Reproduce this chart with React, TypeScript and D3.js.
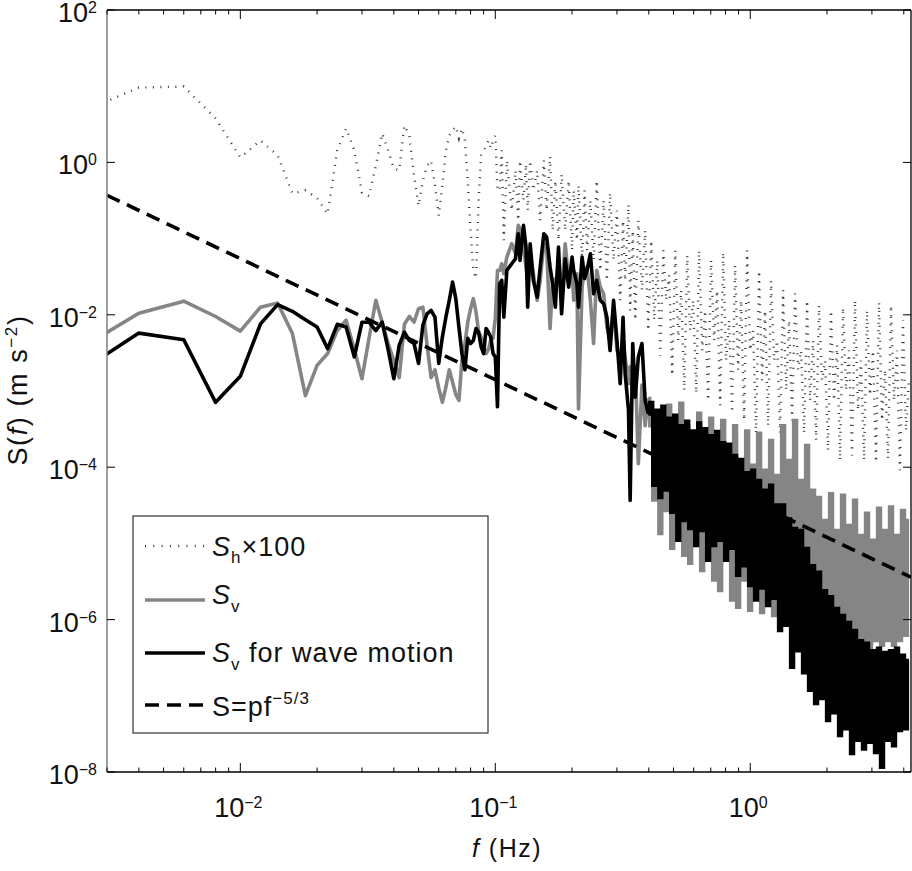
import * as d3 from "d3";

const W = 912;
const H = 871;
const M = { left: 107, right: 911, top: 10, bottom: 772 };
const F_MIN = 0.003;
const F_MAX = 4.27;

// low band, one value every 0.002 Hz
const fLow = [
  0.002, 0.004, 0.006, 0.008, 0.01, 0.012, 0.014, 0.016, 0.018, 0.02,
  0.022, 0.024, 0.026, 0.028, 0.03, 0.032, 0.034, 0.036, 0.038, 0.04,
  0.042, 0.044, 0.046, 0.048, 0.05, 0.052, 0.054, 0.056, 0.058, 0.06,
  0.062, 0.064, 0.066, 0.068, 0.07, 0.072, 0.074, 0.076, 0.078, 0.08,
  0.082, 0.084, 0.086, 0.088, 0.09, 0.092, 0.094, 0.096, 0.098, 0.1, 0.102,
];
const shLow = [
  3.56, 9.6, 9.9, 3.78, 1.16, 1.94, 1.24, 0.39, 0.43, 0.34,
  0.21, 1.44, 2.79, 1.44, 0.4, 0.36, 0.91, 2.4, 1.44, 0.83,
  0.79, 3.06, 2.26, 0.67, 0.27, 0.58, 0.91, 1.06, 0.5, 0.2,
  0.5, 1.44, 2.26, 2.63, 2.97, 2.07, 2.79, 1.94, 0.58, 0.128,
  0.038, 0.03, 0.32, 1.24, 1.44, 1.62, 1.94, 1.53, 1.94, 2.26, 0.43,
];
const svLow = [
  0.0026, 0.0105, 0.0151, 0.0095, 0.0061, 0.0126, 0.0143, 0.0057, 0.00087, 0.00217,
  0.0031, 0.0062, 0.0085, 0.0035, 0.00145, 0.005, 0.0155, 0.008, 0.0042, 0.0025,
  0.0015, 0.0075, 0.0095, 0.008, 0.012, 0.0126, 0.004, 0.0015, 0.0019, 0.0011,
  0.00071, 0.00112, 0.0019, 0.0013, 0.0009, 0.00075, 0.0025, 0.0042, 0.008, 0.012,
  0.0163, 0.011, 0.006, 0.0051, 0.004, 0.0031, 0.0035, 0.0046, 0.005, 0.0089, 0.038,
];
const wvLow = [
  0.00127, 0.00575, 0.0047, 0.00071, 0.00156, 0.0076, 0.0136, 0.0111, 0.0086, 0.0069,
  0.0036, 0.0075, 0.0069, 0.0028, 0.008, 0.008, 0.0062, 0.008, 0.0035, 0.00145,
  0.004, 0.0059, 0.0046, 0.0042, 0.0023, 0.0073, 0.0103, 0.0114, 0.0093, 0.0023,
  0.0051, 0.0093, 0.0155, 0.0269, 0.0163, 0.0069, 0.0031, 0.0019, 0.0049, 0.0042,
  0.0046, 0.0066, 0.0059, 0.0038, 0.0031, 0.0066, 0.0059, 0.0051, 0.0031, 0.0028, 0.00062,
];

// middle band
const fMid = [
  0.104, 0.106, 0.108, 0.111, 0.116, 0.12, 0.123, 0.125, 0.129, 0.132,
  0.134, 0.137, 0.141, 0.146, 0.15, 0.155, 0.159, 0.164, 0.168, 0.172,
  0.177, 0.182, 0.188, 0.194, 0.2, 0.203, 0.209, 0.212, 0.219, 0.224,
  0.229, 0.236, 0.243, 0.25, 0.258, 0.266, 0.274, 0.282, 0.291, 0.3,
  0.309, 0.317, 0.323, 0.333, 0.338, 0.346, 0.354, 0.364, 0.376, 0.387, 0.398,
];
const shMid = [
  0.43, 1.44, 0.095, 1.06, 0.234, 0.785, 0.173, 1.06, 0.317, 0.95,
  0.234, 1.06, 0.43, 0.785, 0.173, 1.06, 0.234, 1.2, 0.128, 0.58,
  0.095, 0.7, 0.128, 0.58, 0.07, 0.43, 0.095, 0.5, 0.052, 0.43,
  0.07, 0.317, 0.052, 0.58, 0.038, 0.317, 0.028, 0.4, 0.052, 0.234,
  0.0155, 0.173, 0.028, 0.28, 0.0114, 0.128, 0.0085, 0.173, 0.021, 0.128, 0.0062,
];
const svMid = [
  0.0383, 0.0468, 0.0346, 0.0573, 0.0857, 0.0633, 0.149, 0.135, 0.0775, 0.0423,
  0.0283, 0.0633, 0.0346, 0.0155, 0.0283, 0.0857, 0.0775, 0.0066, 0.03, 0.0231,
  0.0468, 0.0189, 0.0857, 0.0283, 0.0423, 0.0155, 0.0346, 0.00058, 0.0231, 0.04,
  0.0423, 0.0155, 0.0042, 0.0383, 0.0231, 0.0189, 0.0069, 0.0046, 0.0126, 0.0034,
  0.0028, 0.0046, 0.0028, 0.00125, 0.0021, 0.00083, 0.0021, 0.000111, 0.0012, 0.00035, 0.0008,
];
const wvMid = [
  0.0256, 0.0283, 0.0093, 0.0383, 0.0468, 0.0544, 0.116, 0.0518, 0.149, 0.0775,
  0.0126, 0.0857, 0.0283, 0.0171, 0.0423, 0.116, 0.105, 0.0423, 0.025, 0.0126,
  0.0775, 0.0103, 0.0544, 0.0231, 0.0573, 0.0383, 0.0256, 0.0126, 0.0573, 0.03,
  0.0383, 0.0633, 0.0189, 0.0283, 0.0155, 0.014, 0.0093, 0.0034, 0.0155, 0.0046,
  0.00125, 0.0093, 0.00169, 0.00056, 0.0000366, 0.0042, 0.00083, 0.0028, 0.0042, 0.00075, 0.0005,
];

// high band, peaks and troughs
const fHigh = [
  0.409, 0.42, 0.432, 0.444, 0.456, 0.468, 0.481, 0.494, 0.508, 0.522,
  0.536, 0.551, 0.566, 0.581, 0.597, 0.614, 0.63, 0.648, 0.665, 0.684,
  0.702, 0.722, 0.741, 0.762, 0.783, 0.804, 0.826, 0.849, 0.872, 0.896,
  0.921, 0.946, 0.972, 0.999, 1.026, 1.054, 1.083, 1.113, 1.143, 1.175,
  1.207, 1.24, 1.274, 1.309, 1.345, 1.382, 1.42, 1.459, 1.499, 1.54,
  1.582, 1.626, 1.67, 1.716, 1.763, 1.812, 1.861, 1.912, 1.965, 2.019,
  2.074, 2.131, 2.19, 2.25, 2.311, 2.375, 2.44, 2.507, 2.576, 2.646,
  2.719, 2.794, 2.87, 2.949, 3.03, 3.113, 3.199, 3.286, 3.377, 3.469,
  3.565, 3.662, 3.763, 3.866, 3.972, 4.081, 4.19,
];
const shHigh = [
  0.095, 0.0085, 0.052, 0.0029, 0.07, 0.0155, 0.033, 0.0016, 0.07, 0.0046,
  0.021, 0.00102, 0.06, 0.0062, 0.0155, 0.00093, 0.07, 0.0034, 0.0114, 0.00075,
  0.052, 0.0046, 0.021, 0.00065, 0.066, 0.0025, 0.0085, 0.00052, 0.0445, 0.0019,
  0.0155, 0.00041, 0.07, 0.0034, 0.0062, 0.00028, 0.038, 0.00138, 0.0114, 0.00035,
  0.028, 0.0025, 0.0046, 0.00028, 0.021, 0.00102, 0.0085, 0.00041, 0.019, 0.0019,
  0.0034, 0.00028, 0.0155, 0.00075, 0.0046, 0.000225, 0.0133, 0.00138, 0.0025, 0.000166,
  0.0114, 0.00075, 0.004, 0.000123, 0.0125, 0.00102, 0.0034, 0.000143, 0.0155, 0.00056,
  0.0025, 0.000123, 0.0114, 0.00088, 0.0034, 0.000116, 0.0146, 0.00041, 0.0019, 0.00013,
  0.0133, 0.00075, 0.0034, 0.000091, 0.0085, 0.0003, 0.00138,
];
const svHigh = [
  3.5e-4, 3.7e-5, 5.2e-4, 1.35e-5, 3.0e-4, 2.7e-5, 6.5e-4, 8.6e-6, 4.1e-4, 2.0e-5,
  6.9e-4, 7.0e-6, 3.5e-4, 5.5e-6, 2.25e-4, 1.48e-5, 5.1e-4, 4.4e-6, 1.93e-4, 9.4e-6,
  4.4e-4, 3.3e-6, 1.66e-4, 2.4e-6, 4.1e-4, 6.0e-6, 1.43e-4, 1.8e-6, 3.5e-4, 1.45e-6,
  1.23e-4, 3.3e-6, 3.0e-4, 1.32e-6, 1.06e-4, 2.4e-6, 2.8e-4, 1.24e-6, 9.1e-5, 1.8e-6,
  2.25e-4, 1.13e-6, 7.8e-5, 2.1e-6, 3.5e-4, 9.8e-7, 1.23e-4, 8.4e-7, 4.1e-4, 1.32e-6,
  6.7e-5, 7.2e-7, 1.93e-4, 6.2e-7, 5.0e-5, 1.13e-6, 4.0e-5, 5.3e-7, 2.0e-5, 8.4e-7,
  4.5e-5, 5.3e-7, 1.48e-5, 4.6e-7, 4.3e-5, 7.2e-7, 1.72e-5, 4.6e-7, 3.7e-5, 5.3e-7,
  1.27e-5, 4.6e-7, 2.5e-5, 4.2e-7, 1.1e-5, 5.3e-7, 2.9e-5, 4.6e-7, 1.48e-5, 5.3e-7,
  3.0e-5, 4.6e-7, 1.27e-5, 5.3e-7, 2.7e-5, 6.2e-7, 2.0e-5,
];
const wvHigh = [
  7.1e-4, 5.8e-5, 5.6e-4, 4.0e-5, 6.3e-4, 5.0e-5, 4.4e-4, 2.55e-5, 4.8e-4, 1.1e-5,
  3.5e-4, 2.0e-5, 4.0e-4, 1.57e-5, 3.0e-4, 9.4e-6, 3.8e-4, 1.48e-5, 3.2e-4, 6.0e-6,
  2.6e-4, 9.4e-6, 2.95e-4, 1.1e-5, 2.1e-4, 6.0e-6, 2.0e-4, 8.6e-6, 1.43e-4, 3.8e-6,
  1.26e-4, 5.1e-6, 8.5e-5, 2.8e-6, 9.1e-5, 1.8e-6, 6.7e-5, 2.6e-6, 5.0e-5, 1.53e-6,
  5.8e-5, 1.9e-6, 3.2e-5, 7.2e-7, 3.2e-5, 8.4e-7, 2.1e-5, 2.36e-7, 1.57e-5, 3.9e-7,
  1.48e-5, 2.0e-7, 8.6e-6, 1.18e-7, 5.1e-6, 7.9e-8, 4.2e-6, 9.2e-8, 2.4e-6, 4.75e-8,
  2.0e-6, 6.0e-8, 1.4e-6, 3.0e-8, 1.13e-6, 3.7e-8, 9.2e-7, 1.75e-8, 7.2e-7, 2.6e-8,
  5.3e-7, 2.0e-8, 4.9e-7, 2.45e-8, 3.9e-7, 1.8e-8, 4.2e-7, 1.15e-8, 3.7e-7, 2.6e-8,
  3.9e-7, 2.2e-8, 4.2e-7, 3.5e-8, 3.4e-7, 3.7e-8, 2.9e-7,
];

// S = p f^-5/3 reference line, end points
const fPower = [0.003, 4.27];
const sPower = [0.37, 3.6e-6];

const yTicks = [1e2, 1, 1e-2, 1e-4, 1e-6, 1e-8];
const yTickExp = ["2", "0", "\u22122", "\u22124", "\u22126", "\u22128"];
const xMajor = [0.01, 0.1, 1];
const xMajorExp = ["\u22122", "\u22121", "0"];

const FONT = "'Liberation Sans', Arial, Helvetica, sans-serif";
const GRAY = "#858585";
const DOT = "#3a3a3a";

const pairs = (fs: number[], ss: number[]) =>
  fs.map((f, i) => [f, ss[i]] as [number, number]);

const App = () => {
  const x = d3.scaleLog().domain([F_MIN, F_MAX]).range([M.left, M.right]);
  const y = d3.scaleLog().domain([1e-8, 1e2]).range([M.bottom, M.top]);
  const line = d3
    .line<[number, number]>()
    .x((d) => x(d[0]))
    .y((d) => y(d[1]));
  // dense part of the spectra: many samples per pixel, drawn as steps
  const stepLine = d3
    .line<[number, number]>()
    .x((d) => x(d[0]))
    .y((d) => y(d[1]))
    .curve(d3.curveStep);

  const sh = [...pairs(fLow, shLow), ...pairs(fMid, shMid), ...pairs(fHigh, shHigh)];
  const svA = [...pairs(fLow, svLow), ...pairs(fMid, svMid)];
  const wvA = [...pairs(fLow, wvLow), ...pairs(fMid, wvMid)];
  const svB = [svA[svA.length - 1], ...pairs(fHigh, svHigh)];
  const wvB = [wvA[wvA.length - 1], ...pairs(fHigh, wvHigh)];
  const pw = pairs(fPower, sPower);

  const xTicks = x.ticks();
  const isMajor = (t: number) =>
    Math.abs(Math.log10(t) - Math.round(Math.log10(t))) < 1e-6;

  const legendRows = [
    { y: 546, base: 556, stroke: DOT, width: 2.4, dash: "1 7.3" },
    { y: 600, base: 604, stroke: GRAY, width: 3.6, dash: undefined },
    { y: 653, base: 662, stroke: "#000", width: 3.6, dash: undefined },
    { y: 705, base: 716, stroke: "#000", width: 3.6, dash: "14 8" },
  ];

  return (
    <svg
      width={W}
      height={H}
      style={{ position: "absolute", left: 0, top: 0, background: "#fff" }}
      fontFamily={FONT}
    >
      <defs>
        <clipPath id="plot">
          <rect
            x={M.left}
            y={M.top}
            width={M.right - M.left}
            height={M.bottom - M.top}
          />
        </clipPath>
      </defs>

      <g clipPath="url(#plot)" fill="none">
        <path
          d={line(sh) || ""}
          stroke={DOT}
          strokeWidth={2.4}
          strokeDasharray="1 6.5"
        />
        <path d={line(svA) || ""} stroke={GRAY} strokeWidth={3.6} strokeLinejoin="round" />
        <path d={stepLine(svB) || ""} stroke={GRAY} strokeWidth={3.4} />
        <path d={line(wvA) || ""} stroke="#000" strokeWidth={3.6} strokeLinejoin="round" />
        <path d={stepLine(wvB) || ""} stroke="#000" strokeWidth={3.4} />
        <path
          d={line(pw) || ""}
          stroke="#000"
          strokeWidth={3.6}
          strokeDasharray="14 8"
        />
      </g>

      {/* frame */}
      <line x1={M.left} x2={M.right} y1={M.top} y2={M.top} stroke="#000" strokeWidth={1.3} />
      <line x1={M.left} x2={M.right} y1={M.bottom} y2={M.bottom} stroke="#000" strokeWidth={1.3} />
      <line x1={M.right} x2={M.right} y1={M.top} y2={M.bottom} stroke="#000" strokeWidth={1.3} />
      <line x1={M.left} x2={M.left} y1={M.top} y2={M.bottom} stroke="#7f7f7f" strokeWidth={1.5} />

      {/* x ticks */}
      {xTicks.map((t) => {
        const len = isMajor(t) ? 9 : 4.5;
        return (
          <g key={"xt" + t} stroke="#000" strokeWidth={1}>
            <line x1={x(t)} x2={x(t)} y1={M.bottom} y2={M.bottom - len} />
            <line x1={x(t)} x2={x(t)} y1={M.top} y2={M.top + len} />
          </g>
        );
      })}
      {xMajor.map((t, i) => (
        <text key={"xl" + t} x={x(t) - 2} y={817} fontSize={27} textAnchor="middle" fill="#111">
          <tspan>10</tspan>
          <tspan fontSize={16} dy={-9}>
            {xMajorExp[i]}
          </tspan>
        </text>
      ))}

      {/* y ticks */}
      {yTicks.map((t, i) => (
        <g key={"yt" + t}>
          <line x1={M.left} x2={M.left + 8} y1={y(t)} y2={y(t)} stroke="#000" strokeWidth={1} />
          <line x1={M.right} x2={M.right - 8} y1={y(t)} y2={y(t)} stroke="#000" strokeWidth={1} />
          <text x={97} y={y(t) + 12} fontSize={27} textAnchor="end" fill="#111">
            <tspan>10</tspan>
            <tspan fontSize={16} dy={-9}>
              {yTickExp[i]}
            </tspan>
          </text>
        </g>
      ))}

      {/* axis titles */}
      <text x={507} y={857} fontSize={25} textAnchor="middle" letterSpacing={1.5} fill="#111">
        <tspan fontStyle="italic">f</tspan>
        <tspan> (Hz)</tspan>
      </text>
      <text
        transform="translate(27,390) rotate(-90)"
        fontSize={27}
        textAnchor="middle"
        letterSpacing={1.6}
        fill="#111"
      >
        <tspan>S(</tspan>
        <tspan fontStyle="italic">f</tspan>
        <tspan>) (m s</tspan>
        <tspan fontSize={17} dy={-10}>
          {"\u22122"}
        </tspan>
        <tspan dy={10}>)</tspan>
      </text>

      {/* legend */}
      <rect x={133} y={516} width={355} height={217} fill="#fff" stroke="#333" strokeWidth={1.2} />
      {legendRows.map((r, i) => (
        <line
          key={"lg" + i}
          x1={145}
          x2={205}
          y1={r.y}
          y2={r.y}
          stroke={r.stroke}
          strokeWidth={r.width}
          strokeDasharray={r.dash}
        />
      ))}
      <g fontSize={27} fill="#111" letterSpacing={1}>
        <text x={212} y={legendRows[0].base}>
          <tspan fontStyle="italic">S</tspan>
          <tspan fontSize={17} dy={7}>h</tspan>
          <tspan dy={-7}>×100</tspan>
        </text>
        <text x={212} y={legendRows[1].base}>
          <tspan fontStyle="italic">S</tspan>
          <tspan fontSize={17} dy={8}>v</tspan>
        </text>
        <text x={212} y={legendRows[2].base}>
          <tspan fontStyle="italic">S</tspan>
          <tspan fontSize={17} dy={8}>v</tspan>
          <tspan dy={-8}> for wave motion</tspan>
        </text>
        <text x={212} y={legendRows[3].base}>
          <tspan>S=pf</tspan>
          <tspan fontSize={17} dy={-12}>{"\u22125/3"}</tspan>
        </text>
      </g>
    </svg>
  );
};

export default App;
